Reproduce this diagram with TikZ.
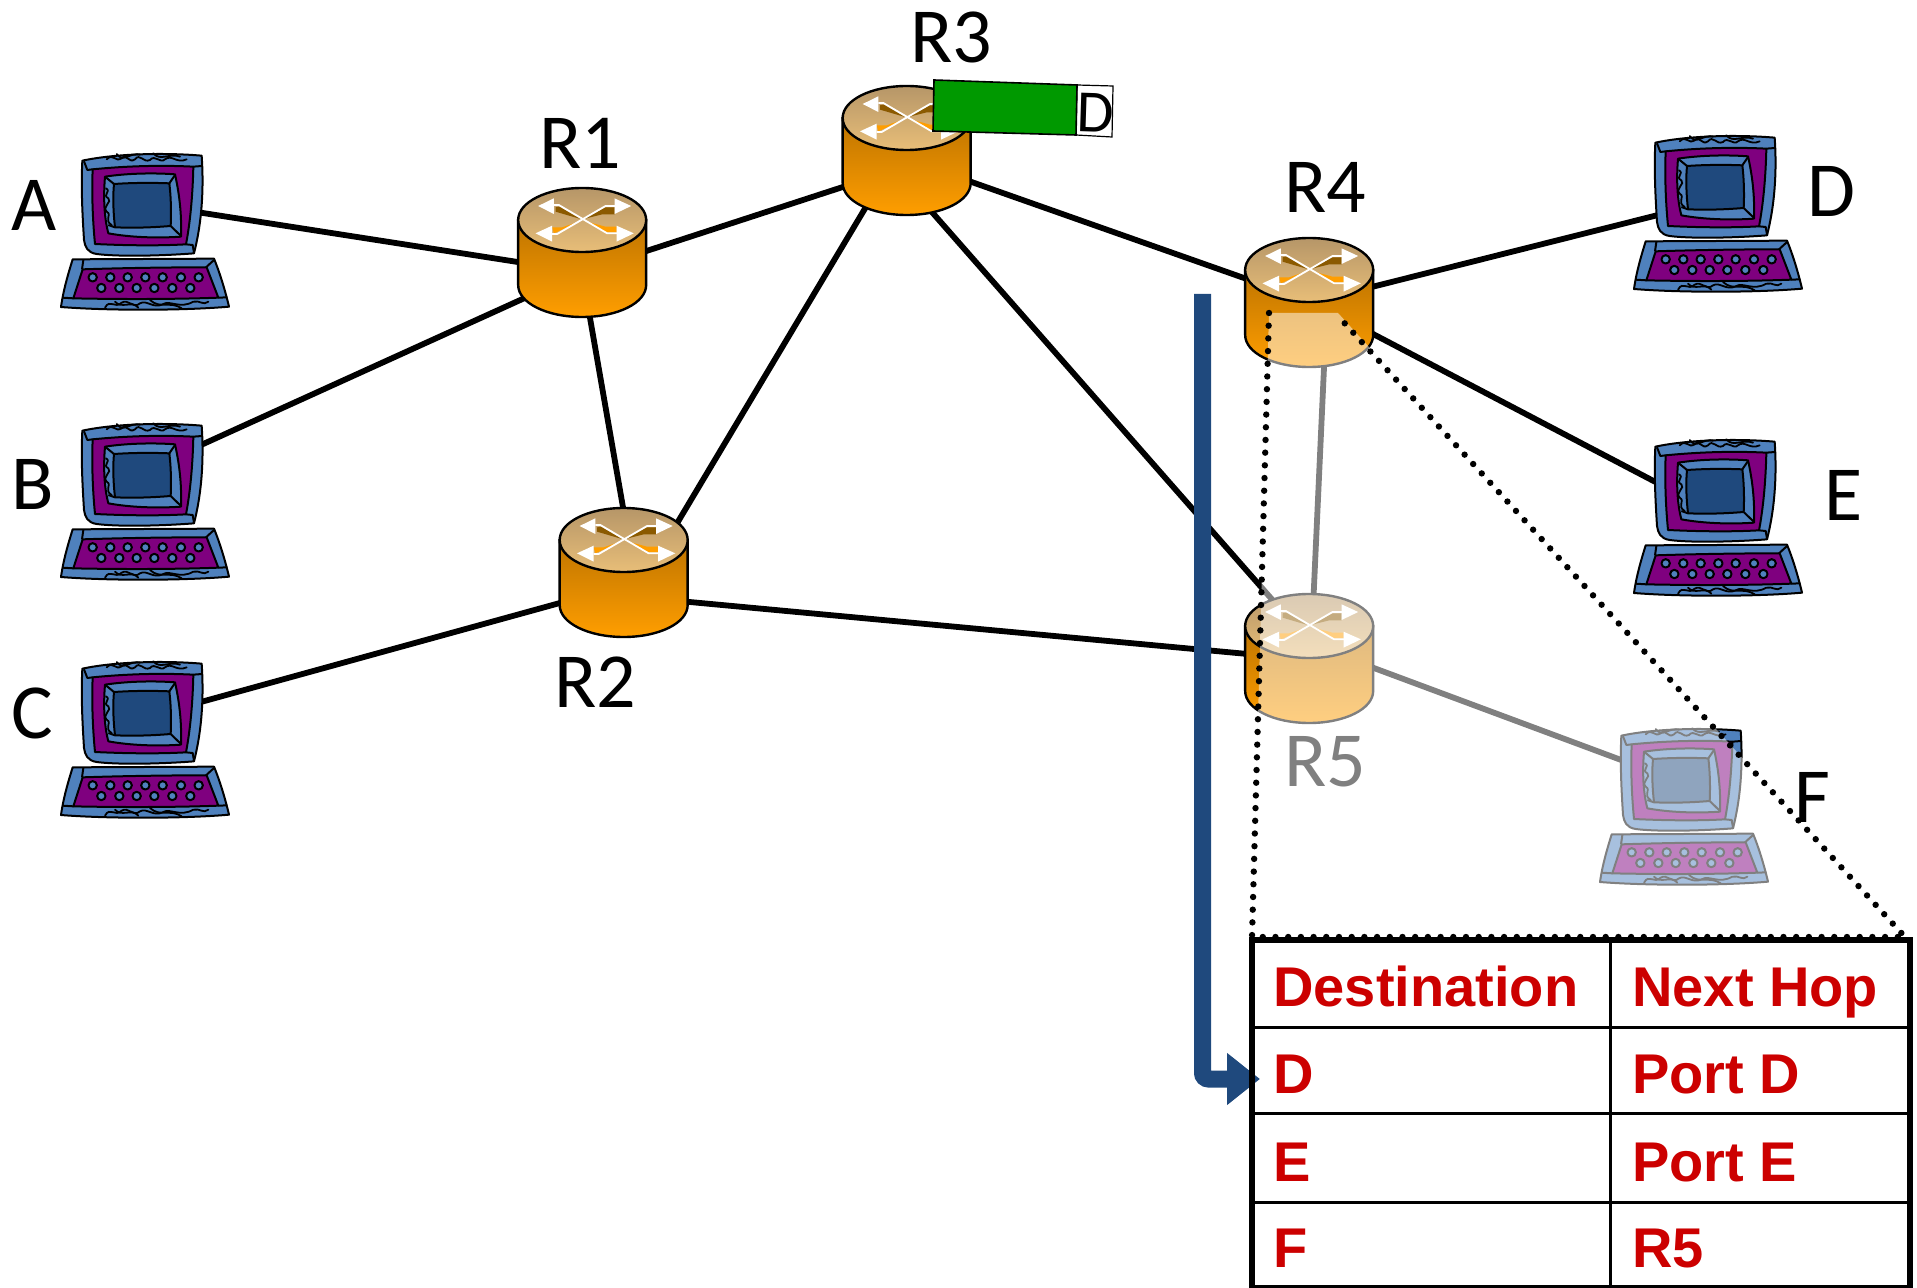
\documentclass[tikz,border=0pt]{standalone}
\usepackage{fontspec}
\setmainfont{Liberation Sans}
\newfontfamily\handfont{Carlito}
\usetikzlibrary{arrows.meta}
\definecolor{compblue}{HTML}{4F81BD}
\definecolor{comppurple}{HTML}{7F007F}
\definecolor{compscreen}{HTML}{1F497D}
\definecolor{tablered}{HTML}{CC0000}
\definecolor{pktgreen}{HTML}{009900}
\definecolor{rtrorange}{HTML}{FF9E00}
\definecolor{rtrdark}{HTML}{BE7400}
\definecolor{rtrbrown}{HTML}{8B5A00}
\definecolor{captop}{HTML}{B69668}
\definecolor{capbottom}{HTML}{E8BE78}
\tikzset{
  port/.style={circle,inner sep=0pt,outer sep=0pt,minimum size=15pt},
  link/.style={line width=2.9pt,black},
  hand/.style={font=\handfont\fontsize{39}{44}\selectfont,inner sep=0pt,text=black},
  cell/.style={font=\bfseries\fontsize{28}{34}\selectfont,text=tablered,anchor=base west,inner sep=0pt},
  pcline/.style={line width=1pt,draw=black,line join=round},
  wiggle/.style={line width=0.9pt,draw=black,line cap=round},
  rtrline/.style={line width=1.2pt,draw=black},
}
\newcommand{\pcicon}[2]{%
\begin{scope}[shift={(#1,#2)},x=0.16667pt,y=-0.16667pt]
 % monitor
 \path[pcline,fill=compblue] (247,92) .. controls (350,70) and (500,68) .. (605,77) .. controls (612,180) and (605,280) .. (582,370) .. controls (480,378) and (350,380) .. (290,372) .. controls (262,368) and (255,350) .. (252,330) .. controls (247,250) and (243,170) .. (247,92) -- cycle;
 \path[pcline,fill=comppurple] (278,118) .. controls (380,108) and (480,105) .. (580,110) .. controls (578,200) and (570,280) .. (558,343) .. controls (470,348) and (370,346) .. (285,342) .. controls (278,270) and (275,190) .. (278,118) -- cycle;
 \draw[pcline] (252,94) -- (262,120) -- (278,118) (580,110) -- (606,108) (558,343) -- (578,345) -- (582,368);
 % bezel and screen
 \path[pcline,fill=compblue] (315,140) .. controls (380,130) and (460,128) .. (525,133) .. controls (540,200) and (545,260) .. (543,320) .. controls (470,325) and (390,322) .. (325,310) .. controls (312,260) and (310,200) .. (315,140) -- cycle;
 \path[pcline,fill=compscreen] (342,162) .. controls (400,158) and (460,158) .. (508,160) .. controls (513,200) and (514,250) .. (512,288) .. controls (450,293) and (400,294) .. (345,292) .. controls (340,250) and (338,200) .. (342,162) -- cycle;
 \draw[pcline] (525,135) -- (508,160) (543,318) -- (512,288) (315,140) -- (342,162) (325,285) -- (345,292);
 \draw[wiggle] (318,175) .. controls (335,185) and (305,195) .. (325,205) .. controls (338,215) and (305,230) .. (320,245) .. controls (338,255) and (310,270) .. (335,285);
 % top ornament
 \draw[wiggle] (320,88) .. controls (340,68) and (345,98) .. (365,85) .. controls (380,68) and (385,102) .. (405,88) .. controls (420,68) and (430,100) .. (450,90) .. controls (465,72) and (480,102) .. (495,88) .. controls (515,72) and (530,102) .. (560,88);
 \draw[wiggle] (350,72) .. controls (370,100) and (390,66) .. (420,74) (460,70) .. controls (480,95) and (510,68) .. (540,80);
 % keyboard
 \path[pcline,fill=compblue] (218,388) -- (642,386) .. controls (660,430) and (675,480) .. (687,530) .. controls (550,542) and (320,542) .. (183,531) .. controls (190,480) and (205,430) .. (218,388) -- cycle;
 \path[pcline,fill=comppurple] (248,418) .. controls (370,414) and (500,412) .. (620,412) -- (655,503) .. controls (520,508) and (360,508) .. (220,505) -- cycle;
 \draw[pcline] (250,390) -- (246,418) (642,390) -- (618,412) (187,503) -- (220,505) (655,503) -- (682,502);
 \foreach \k in {278,331,383,436,488,543,596} {\path[pcline,fill=compblue] (\k,442) circle[radius=2.1pt];}
 \foreach \k in {304,358,410,463,517,571} {\path[pcline,fill=compblue] (\k,474) circle[radius=2.1pt];}
 \draw[wiggle] (315,533) .. controls (330,505) and (345,538) .. (365,518) .. controls (385,505) and (400,538) .. (420,520) .. controls (440,508) and (460,538) .. (490,522) .. controls (510,510) and (540,538) .. (580,515) .. controls (600,510) and (610,528) .. (625,515);
 \draw[wiggle] (345,515) .. controls (365,538) and (395,510) .. (415,533) (450,510) .. controls (480,538) and (510,512) .. (545,535);
\end{scope}}
\newcommand{\routericon}[2]{%
\begin{scope}[shift={(#1-92,#2-50)},x=0.16667pt,y=-0.16667pt]
 \path[rtrline,top color=rtrdark,bottom color=rtrorange] (83,150) -- (83,345) .. controls (83,399) and (169,441) .. (275,441) .. controls (381,441) and (467,399) .. (467,345) -- (467,150) -- cycle;
 \path[rtrline,top color=captop,bottom color=capbottom] (83,150) .. controls (83,96) and (169,54) .. (275,54) .. controls (381,54) and (467,96) .. (467,150) .. controls (467,204) and (381,246) .. (275,246) .. controls (169,246) and (83,204) .. (83,150) -- cycle;
 \fill[rtrbrown] (195,112) -- (207,110) -- (270,147) -- (195,125) -- cycle;
 \fill[rtrbrown] (372,112) -- (345,112) -- (280,147) -- (335,133) -- (372,133) -- cycle;
 \fill[rtrorange] (185,172) -- (215,172) -- (270,153) -- (190,190) -- cycle;
 \fill[rtrorange] (282,153) -- (345,170) -- (378,170) -- (378,187) -- (350,187) -- cycle;
 \draw[white,line width=0.9pt] (190,105) -- (205,105) -- (350,190) -- (380,190);
 \draw[white,line width=0.9pt] (185,192) -- (200,192) -- (345,108) -- (374,108);
 \fill[white] (143,108) -- (190,85) -- (190,132) -- cycle;
 \fill[white] (422,108) -- (372,85) -- (372,132) -- cycle;
 \fill[white] (135,190) -- (185,167) -- (185,215) -- cycle;
 \fill[white] (430,190) -- (378,167) -- (378,215) -- cycle;
\end{scope}}
\begin{document}
\begin{tikzpicture}[x=0.5pt,y=-0.5pt]
\useasboundingbox (0,0) rectangle (1917,1288);
\clip (0,0) rectangle (1917,1288);
% connection points
\node[port] (R1) at (582,272) {};
\node[port] (R2) at (636,582) {};
\node[port] (R3) at (895,170) {};
\node[port] (R4) at (1312,302) {};
\node[port] (R5) at (1312,645) {};
\coordinate (A) at (190,211);
\coordinate (B) at (190,450);
\coordinate (C) at (190,705);
\coordinate (D) at (1670,212);
\coordinate (E) at (1665,487);
\coordinate (F) at (1640,767);
% links
\draw[link] (A) -- (R1);
\draw[link] (B) -- (R1);
\draw[link] (C) -- (R2);
\draw[link] (R1) -- (R2);
\draw[link] (R1) -- (R3);
\draw[link] ([xshift=-3.5pt]R3.center) -- ([xshift=3pt]R2.center);
\draw[link] (R3.north) -- (R4);
\draw[link] (R3) -- (R5);
\draw[link] (R2.south) -- (R5.south);
\draw[link] (R4) -- (D);
\draw[link] (R4) -- (E);
\draw[link] (R4.east) -- (R5.north);
\draw[link] (R5) -- (F);
% routers
\routericon{582.5}{220}
\routericon{624}{540}
\routericon{907}{118}
\routericon{1309.5}{270}
\routericon{1309.5}{626}
% computers
\pcicon{0}{130}
\pcicon{0}{400}
\pcicon{0}{638}
\pcicon{1573}{112}
\pcicon{1573}{416}
\pcicon{1539}{705}
% labels
\node[hand] (lR1) at (580,143) {R1};
\node[hand] (lR2) at (595,682) {R2};
\node[hand] (lR3) at (951,37) {R3};
\node[hand] (lR4) at (1325,187) {R4};
\node[hand] (lR5) at (1325,762) {R5};
\node[hand] (lA) at (34,205) {A};
\node[hand] (lB) at (33,484) {B};
\node[hand] (lC) at (32,713) {C};
\node[hand] (lD) at (1831,191) {D};
\node[hand] (lE) at (1844,495) {E};
\node[hand] (lF) at (1812,797) {F};
% packet
\path[draw=black,line width=0.6pt,fill=white] (1077,85) -- (1113,86) -- (1112,137) -- (1076,135) -- cycle;
\path[draw=black,line width=0.8pt,fill=pktgreen] (934,80) -- (1077,85) -- (1076,135) -- (933,131) -- cycle;
\node[font=\handfont\fontsize{30}{34}\selectfont,inner sep=0pt,rotate=-1.8] (pktD) at (1096,113) {D};
% zoom wedge: fades what lies under it
\fill[white,opacity=0.5] (1269,313) -- (1338,313) -- (1905,937) -- (1252,937) -- cycle;
% table
\fill[white] (1252,940) rectangle (1910,1288);
\draw[black,line width=1.5pt] (1252,1027) -- (1910,1027) (1252,1113) -- (1910,1113) (1252,1202) -- (1910,1202);
\draw[black,line width=1.5pt] (1610,940) -- (1610,1288);
% lookup arrow
\coordinate (arrowstart) at (1202.5,294);
\coordinate (arrowend) at (1260,1079);
\draw[line width=8.5pt,draw=compscreen,rounded corners=3pt,-{Triangle[length=16.5pt,width=25pt]}] (arrowstart) |- (arrowend);
\draw[black,line width=2.8pt] (1252,940) rectangle (1910,1288);
% wedge outline
\draw[black,line width=3.2pt,line cap=round,dash pattern=on 0pt off 6.35pt] (1269,313) -- (1252,937) -- (1905,937) -- (1338,316);
% table text
\node[cell] (h1) at (1273,1006) {Destination};
\node[cell] (h2) at (1632,1006) {Next Hop};
\node[cell] (c1) at (1273,1093) {D};
\node[cell] (c2) at (1632,1093) {Port D};
\node[cell] (c3) at (1273,1181) {E};
\node[cell] (c4) at (1632,1181) {Port E};
\node[cell] (c5) at (1273,1267) {F};
\node[cell] (c6) at (1632,1267) {R5};
\end{tikzpicture}
\end{document}
